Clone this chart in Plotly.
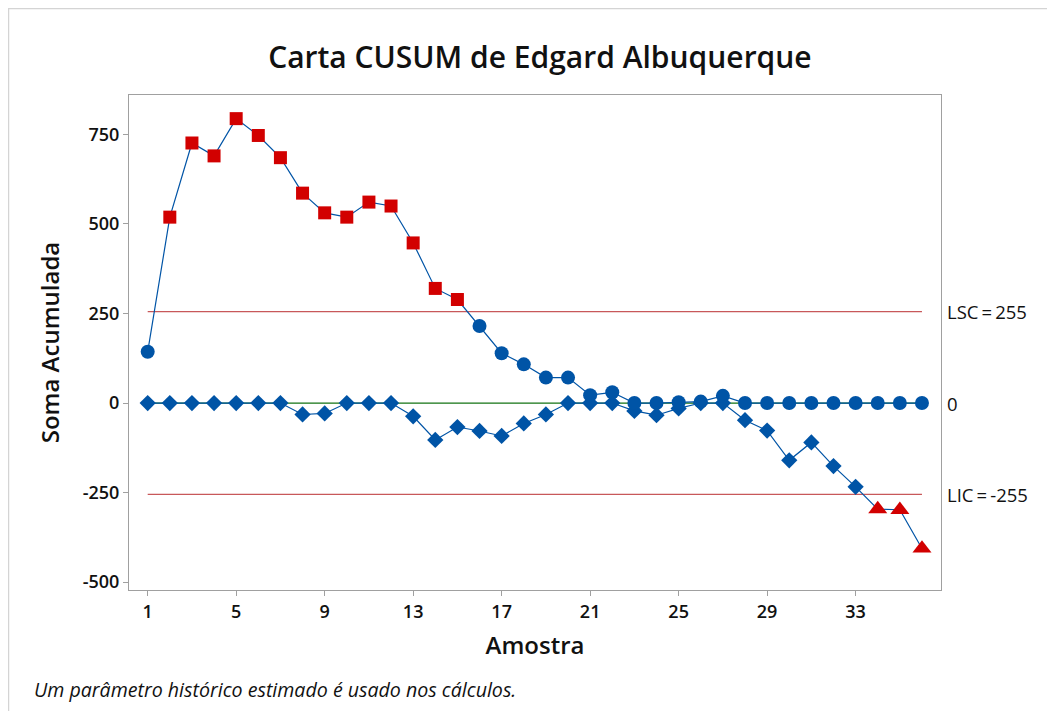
import plotly.graph_objects as go

# Amostra numbers
amostra = list(range(1, 37))

# CUSUM superior (C+) e inferior (C-)
cusum_sup = [143, 519, 726, 690, 794, 747, 685, 586, 531, 519, 561, 550,
             447, 320, 289, 215, 139, 108, 71, 71, 22, 30, 0, 0,
             2, 4, 20, 0, 0, 0, 0, 0, 0, 0, 0, 0]
cusum_inf = [0, 0, 0, 0, 0, 0, 0, -32, -29, 0, 0, 0,
             -37, -103, -67, -78, -92, -57, -32, 0, 0, 0, -22, -34,
             -15, 0, 0, -48, -77, -160, -110, -176, -234, -296, -298, -406]

lsc = 255
lic = -255
centro = 0

y_ticks = [-500, -250, 0, 250, 500, 750]
y_ticklabels = ["-500", "-250", "0", "250", "500", "750"]
x_ticks = [1, 5, 9, 13, 17, 21, 25, 29, 33]

azul = "#0054A6"
vermelho = "#D20000"
linha_limite = "#C8585A"
verde = "#137313"
fonte = "Open Sans, Noto Sans, sans-serif"

fig = go.Figure()

# limit lines and center line
fig.add_trace(go.Scatter(x=[amostra[0], amostra[-1]], y=[lsc, lsc], mode="lines",
                         line=dict(color=linha_limite, width=1.2), hoverinfo="skip"))
fig.add_trace(go.Scatter(x=[amostra[0], amostra[-1]], y=[lic, lic], mode="lines",
                         line=dict(color=linha_limite, width=1.2), hoverinfo="skip"))
fig.add_trace(go.Scatter(x=[amostra[0], amostra[-1]], y=[centro, centro], mode="lines",
                         line=dict(color=verde, width=1.2), hoverinfo="skip"))

# connecting lines
fig.add_trace(go.Scatter(x=amostra, y=cusum_sup, mode="lines",
                         line=dict(color=azul, width=1.2)))
fig.add_trace(go.Scatter(x=amostra, y=cusum_inf, mode="lines",
                         line=dict(color=azul, width=1.2)))

# markers: in control vs out of control
sup_ok = [(a, v) for a, v in zip(amostra, cusum_sup) if v <= lsc]
sup_fora = [(a, v) for a, v in zip(amostra, cusum_sup) if v > lsc]
inf_ok = [(a, v) for a, v in zip(amostra, cusum_inf) if v >= lic]
inf_fora = [(a, v) for a, v in zip(amostra, cusum_inf) if v < lic]

fig.add_trace(go.Scatter(x=[p[0] for p in inf_ok], y=[p[1] for p in inf_ok], mode="markers",
                         marker=dict(symbol="diamond", size=12.5, color=azul)))
fig.add_trace(go.Scatter(x=[p[0] for p in inf_fora], y=[p[1] for p in inf_fora], mode="markers",
                         marker=dict(symbol="triangle-up", size=16.5, color=vermelho)))
fig.add_trace(go.Scatter(x=[p[0] for p in sup_ok], y=[p[1] for p in sup_ok], mode="markers",
                         marker=dict(symbol="circle", size=14, color=azul)))
fig.add_trace(go.Scatter(x=[p[0] for p in sup_fora], y=[p[1] for p in sup_fora], mode="markers",
                         marker=dict(symbol="square", size=13, color=vermelho)))

# limit labels on the right
for val, txt in [(lsc, "LSC\u2009=\u2009255"), (centro, "0"), (lic, "LIC\u2009=\u2009-255")]:
    fig.add_annotation(x=1.0, xref="paper", y=val, yref="y", text=txt, showarrow=False,
                       xanchor="left", yanchor="middle", xshift=4,
                       font=dict(family=fonte, size=18.5, color="#111111"))

# footnote
fig.add_annotation(x=-0.1195, xref="paper", y=-0.202, yref="paper",
                   text="<i>Um parâmetro histórico estimado é usado nos cálculos.</i>",
                   showarrow=False, xanchor="left", yanchor="middle",
                   font=dict(family=fonte, size=19.6, color="#111111"))

# outer frame (figure edge)
fig.add_shape(type="rect", xref="paper", yref="paper", x0=-0.1484, x1=1.2, y0=-0.3, y1=1.1747,
              line=dict(color="#D4D4D4", width=1.5), layer="below")

eixo = dict(showgrid=False, zeroline=False, showline=True, mirror=True,
            linecolor="#A0A0A0", linewidth=1.2, ticks="outside", ticklen=5,
            tickcolor="#A0A0A0", tickwidth=1.2,
            tickfont=dict(family=fonte, size=18, color="#111111", weight=600))

fig.update_layout(
    width=1047, height=703,
    paper_bgcolor="white", plot_bgcolor="white",
    showlegend=False,
    margin=dict(l=121, r=114, t=87, b=121),
    title=dict(text="Carta CUSUM de Edgard Albuquerque", x=0.508, xanchor="center",
               y=1 - 49 / 703, yanchor="middle",
               font=dict(family=fonte, size=30, color="#111111", weight=600)),
    xaxis=dict(eixo, range=[0.155, 36.86], tickvals=x_ticks,
               title=dict(text="Amostra", standoff=15,
                          font=dict(family=fonte, size=24, color="#111111", weight=600))),
    yaxis=dict(eixo, range=[-522, 860], tickvals=y_ticks, ticktext=y_ticklabels,
               title=dict(text="Soma Acumulada", standoff=16,
                          font=dict(family=fonte, size=24, color="#111111", weight=600))),
)

fig.write_html("out.html")
